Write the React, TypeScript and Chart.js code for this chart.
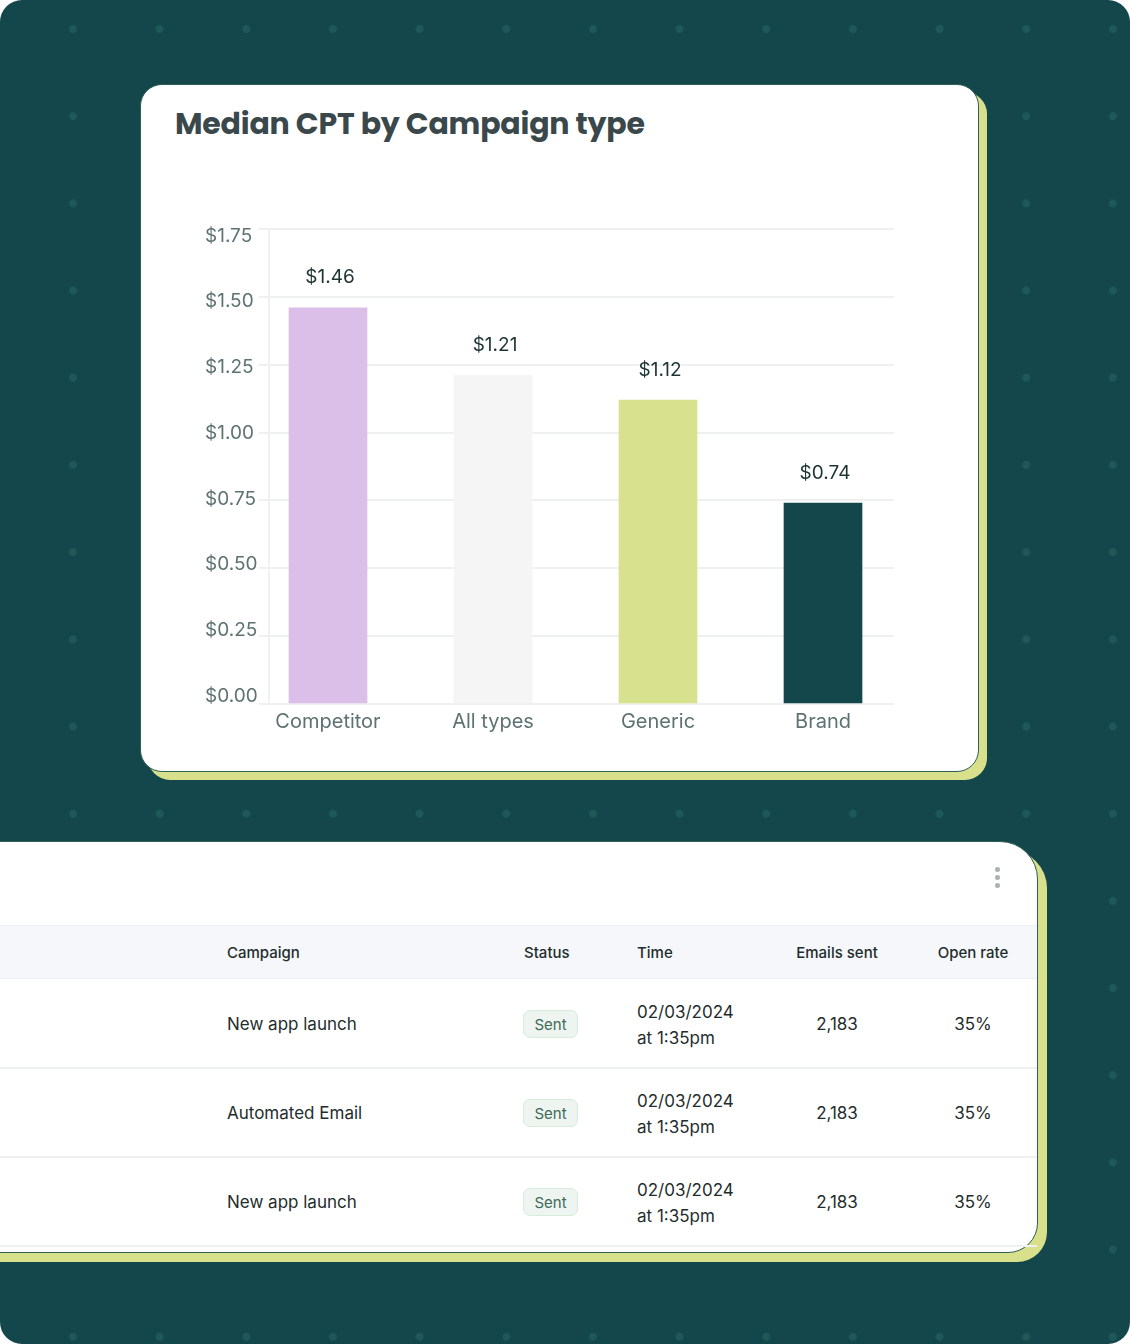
import React, { useEffect, useRef } from "react";
import { Chart, registerables } from "chart.js";

Chart.register(...registerables);

// ---- Chart data ----
const categories = ["Competitor", "All types", "Generic", "Brand"];
const cptValues = [1.46, 1.21, 1.12, 0.74];
const barColors = ["#dcbfe8", "#f5f5f5", "#d8e18d", "#13474b"];
const yTickValues = [0, 0.25, 0.5, 0.75, 1.0, 1.25, 1.5, 1.75];

// ---- Table data ----
const tableHeaders = ["Campaign", "Status", "Time", "Emails sent", "Open rate"];
const campaignNames = ["New app launch", "Automated Email", "New app launch"];
const statuses = ["Sent", "Sent", "Sent"];
const sendDates = ["02/03/2024", "02/03/2024", "02/03/2024"];
const sendTimes = ["at 1:35pm", "at 1:35pm", "at 1:35pm"];
const emailsSent = ["2,183", "2,183", "2,183"];
const openRates = ["35%", "35%", "35%"];

const FONT = "Inter, 'Noto Sans', sans-serif";
const X_MIN = -0.3576;
const X_MAX = 3.4303;
const LABEL_MIN = -0.0304;
const LABEL_MAX = 1.7766;

const valueLabelPlugin = {
  id: "valueLabels",
  afterDatasetsDraw(chart: any) {
    const ctx = chart.ctx;
    const meta = chart.getDatasetMeta(0);
    ctx.save();
    ctx.font = "19px Inter";
    ctx.fillStyle = "#1e3434";
    ctx.textAlign = "center";
    ctx.textBaseline = "middle";
    meta.data.forEach((bar: any, i: number) => {
      ctx.fillText("$" + cptValues[i].toFixed(2), bar.x + 2, bar.y - 30);
    });
    ctx.restore();
  },
};

function ChartView() {
  const canvasRef = useRef<HTMLCanvasElement | null>(null);
  useEffect(() => {
    if (!canvasRef.current) return;
    const chart = new Chart(canvasRef.current, {
      type: "bar",
      data: {
        datasets: [
          {
            data: categories.map((_, i) => ({ x: i, y: cptValues[i] })) as any,
            backgroundColor: barColors,
            borderWidth: 0,
            barThickness: 78,
            yAxisID: "y",
          },
        ],
      },
      options: {
        animation: false,
        responsive: false,
        devicePixelRatio: 1,
        layout: { padding: { left: 24, right: 27, top: 28, bottom: 0 } },
        plugins: { legend: { display: false }, tooltip: { enabled: false } },
        scales: {
          x: {
            type: "linear",
            min: X_MIN,
            max: X_MAX,
            bounds: "data",
            offset: false,
            grid: { display: false, drawTicks: false },
            border: { display: false },
            ticks: {
              stepSize: 1,
              includeBounds: false,
              padding: 6,
              color: "#5e7272",
              font: { family: "Inter", size: 20 },
              callback: (v: any) => (Number.isInteger(v) ? categories[v] ?? "" : ""),
            },
            afterBuildTicks: (s: any) => {
              s.ticks = categories.map((_, i) => ({ value: i }));
              s.min = X_MIN;
              s.max = X_MAX;
            },
            afterFit: (s: any) => {
              s.height = 47;
            },
          },
          y: {
            position: "left",
            weight: 0,
            min: 0,
            max: 1.75,
            grid: { color: "#eef1f0", lineWidth: 2, tickLength: 10, drawTicks: true },
            border: { display: true, color: "#f0f2f1", width: 2 },
            ticks: { stepSize: 0.25, display: false },
            afterFit: (s: any) => {
              s.width = 10;
            },
          },
          yLabels: {
            type: "linear",
            position: "left",
            weight: 1,
            min: LABEL_MIN,
            max: LABEL_MAX,
            bounds: "data",
            grid: { display: false, drawTicks: false },
            border: { display: false },
            ticks: {
              crossAlign: "far",
              includeBounds: false,
              color: "#5e7272",
              font: { family: "Inter", size: 19 },
              callback: (v: any) => "$" + Number(v).toFixed(2),
            },
            afterBuildTicks: (s: any) => {
              s.ticks = yTickValues.map((v) => ({ value: v }));
              s.min = LABEL_MIN;
              s.max = LABEL_MAX;
            },
            afterFit: (s: any) => {
              s.width = 54;
            },
          },
        },
      },
      plugins: [valueLabelPlugin],
    } as any);
    return () => chart.destroy();
  }, []);
  return (
    <canvas
      ref={canvasRef}
      width={740}
      height={550}
      style={{ position: "absolute", left: 40, top: 116, width: 740, height: 550 }}
    />
  );
}

const abs = (x: number, y: number, extra: any = {}) => ({
  position: "absolute" as const,
  left: x,
  top: y,
  lineHeight: 1,
  whiteSpace: "nowrap" as const,
  ...extra,
});

function Table() {
  const headerX = [227, 524, 637, 837, 973];
  const rowTops = [979, 1068, 1157];
  const rowH = 89;
  const textColor = "#1f2d2d";
  return (
    <>
      <div
        style={{
          position: "absolute",
          left: -40,
          top: 841,
          width: 1078,
          height: 412,
          background: "#ffffff",
          borderRadius: "0 38px 30px 0",
          border: "1.5px solid #2f5e52",
          boxSizing: "border-box",
          boxShadow: "9px 9px 0 #d8e08c",
        }}
      />
      {[869, 877, 885].map((y, i) => (
        <div
          key={i}
          style={{
            position: "absolute",
            left: 995,
            top: y - 2,
            width: 4.5,
            height: 4.5,
            borderRadius: "50%",
            background: "#aab4b4",
          }}
        />
      ))}
      <div
        style={{
          position: "absolute",
          left: 0,
          top: 925,
          width: 1037,
          height: 54,
          background: "#f5f7fa",
          borderTop: "1px solid #eef0f3",
          borderBottom: "1px solid #eceff1",
          boxSizing: "border-box",
        }}
      />
      {tableHeaders.map((h, i) => (
        <div
          key={h}
          style={abs(headerX[i], 952, {
            fontFamily: FONT,
            fontSize: 15,
            fontWeight: 500,
            color: textColor,
            transform: i >= 3 ? "translate(-50%, -50%)" : "translateY(-50%)",
          })}
        >
          {h}
        </div>
      ))}
      {rowTops.map((top, r) => {
        const cy = top + 45;
        return (
          <React.Fragment key={r}>
            <div
              style={{
                position: "absolute",
                left: 0,
                top: top + rowH - 1,
                width: 1037,
                height: 2,
                background: "#eff1f1",
              }}
            />
            <div style={abs(227, cy, { fontFamily: FONT, fontSize: 17, color: textColor, transform: "translateY(-50%)" })}>
              {campaignNames[r]}
            </div>
            <div
              style={{
                position: "absolute",
                left: 523,
                top: cy - 14,
                width: 55,
                height: 28,
                boxSizing: "border-box",
                background: "#eef5f0",
                border: "1px solid #d5edd9",
                borderRadius: 7,
                display: "flex",
                alignItems: "center",
                justifyContent: "center",
                fontFamily: FONT,
                fontSize: 15,
                color: "#3f6a58",
              }}
            >
              {statuses[r]}
            </div>
            <div style={abs(637, cy - 12, { fontFamily: FONT, fontSize: 17, color: textColor, transform: "translateY(-50%)" })}>
              {sendDates[r]}
            </div>
            <div style={abs(637, cy + 14, { fontFamily: FONT, fontSize: 17, color: textColor, transform: "translateY(-50%)" })}>
              {sendTimes[r]}
            </div>
            <div style={abs(837, cy, { fontFamily: FONT, fontSize: 17, color: textColor, transform: "translate(-50%, -50%)" })}>
              {emailsSent[r]}
            </div>
            <div style={abs(973, cy, { fontFamily: FONT, fontSize: 17, color: textColor, transform: "translate(-50%, -50%)" })}>
              {openRates[r]}
            </div>
          </React.Fragment>
        );
      })}
    </>
  );
}

export default function App() {
  return (
    <div
      style={{
        position: "absolute",
        left: 0,
        top: 0,
        width: 1130,
        height: 1344,
        overflow: "hidden",
        borderRadius: 22,
        backgroundColor: "#13474b",
        backgroundImage: "radial-gradient(circle, #1e5858 0, #1e5858 3.6px, rgba(30,88,88,0) 4.4px)",
        backgroundSize: "86.67px 87.2px",
        backgroundPosition: "29.66px -14.6px",
        fontFamily: FONT,
      }}
    >
      <div
        style={{
          position: "absolute",
          left: 140,
          top: 84,
          width: 839,
          height: 688,
          background: "#ffffff",
          borderRadius: 22,
          border: "1.5px solid #2f5e52",
          boxSizing: "border-box",
          boxShadow: "8px 8px 0 #d8e08c",
        }}
      >
        <div
          style={{
            position: "absolute",
            left: 34,
            top: 24,
            fontFamily: "Poppins, Inter, sans-serif",
            fontWeight: 700,
            fontSize: 30,
            lineHeight: 1,
            letterSpacing: -0.2,
            color: "#3a484b",
            whiteSpace: "nowrap",
          }}
        >
          Median CPT by Campaign type
        </div>
        <ChartView />
      </div>
      <Table />
    </div>
  );
}
